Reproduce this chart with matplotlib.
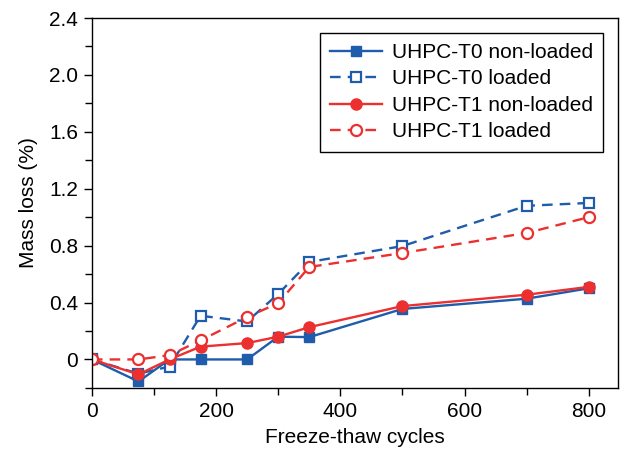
import numpy as np
import matplotlib
matplotlib.use('Agg')
from matplotlib import pyplot as plt

plt.rcParams['font.family'] = ['Liberation Sans', 'DejaVu Sans']

# freeze-thaw cycles
cycles = [0, 75, 125, 175, 250, 300, 350, 500, 700, 800]

# mass loss (%)
t0_nonloaded = [0, -0.155, 0.0, 0.0, 0.0, 0.16, 0.157, 0.355, 0.427, 0.50]
t0_loaded = [0, -0.10, -0.05, 0.307, 0.267, 0.46, 0.685, 0.797, 1.08, 1.10]
t1_nonloaded = [0, -0.105, 0.0, 0.09, 0.115, 0.16, 0.227, 0.375, 0.455, 0.51]
t1_loaded = [0, 0.0, 0.03, 0.134, 0.298, 0.396, 0.65, 0.748, 0.889, 1.0]

blue = '#1f5cab'
red = '#ec2f2f'

f = plt.figure(figsize=(6.21, 4.5), dpi=100)
ax = f.add_axes([0.148, 0.138, 0.847, 0.822])

ax.plot(cycles, t0_nonloaded, '-', color=blue, lw=1.7, marker='s', ms=7.5,
        mfc=blue, mec=blue, label='UHPC-T0 non-loaded')
ax.plot(cycles, t0_loaded, '--', color=blue, lw=1.7, marker='s', ms=7.5,
        mfc='white', mec=blue, mew=1.6, dashes=(4.5, 3), label='UHPC-T0 loaded')
ax.plot(cycles, t1_nonloaded, '-', color=red, lw=1.7, marker='o', ms=8,
        mfc=red, mec=red, label='UHPC-T1 non-loaded')
ax.plot(cycles, t1_loaded, '--', color=red, lw=1.7, marker='o', ms=8,
        mfc='white', mec=red, mew=1.6, dashes=(4.5, 3), label='UHPC-T1 loaded')

ax.set_xlim(0, 847)
ax.set_ylim(-0.2, 2.4)
ax.set_xticks([0, 200, 400, 600, 800])
ax.set_xticks([100, 300, 500, 700], minor=True)
ax.set_yticks([0, 0.4, 0.8, 1.2, 1.6, 2.0, 2.4])
ax.set_yticklabels(['0', '0.4', '0.8', '1.2', '1.6', '2.0', '2.4'])
ax.set_yticks([-0.2, 0.2, 0.6, 1.0, 1.4, 1.8, 2.2], minor=True)
ax.tick_params(which='both', direction='out', top=False, right=False,
               labelsize=15, width=1.0)
ax.tick_params(which='major', length=6, pad=4)
ax.tick_params(which='minor', length=5)
for s in ax.spines.values():
    s.set_linewidth(1.0)

ax.set_xlabel('Freeze-thaw cycles', fontsize=15, labelpad=5)
ax.set_ylabel('Mass loss (%)', fontsize=15, labelpad=8)

leg = ax.legend(loc='upper right', fontsize=15, frameon=True, fancybox=False,
                edgecolor='black', framealpha=1, handlelength=2.5,
                borderaxespad=0.7, labelspacing=0.36, handletextpad=0.45,
                borderpad=0.5)
leg.get_frame().set_linewidth(1.0)

plt.savefig('out.png', dpi=100)
